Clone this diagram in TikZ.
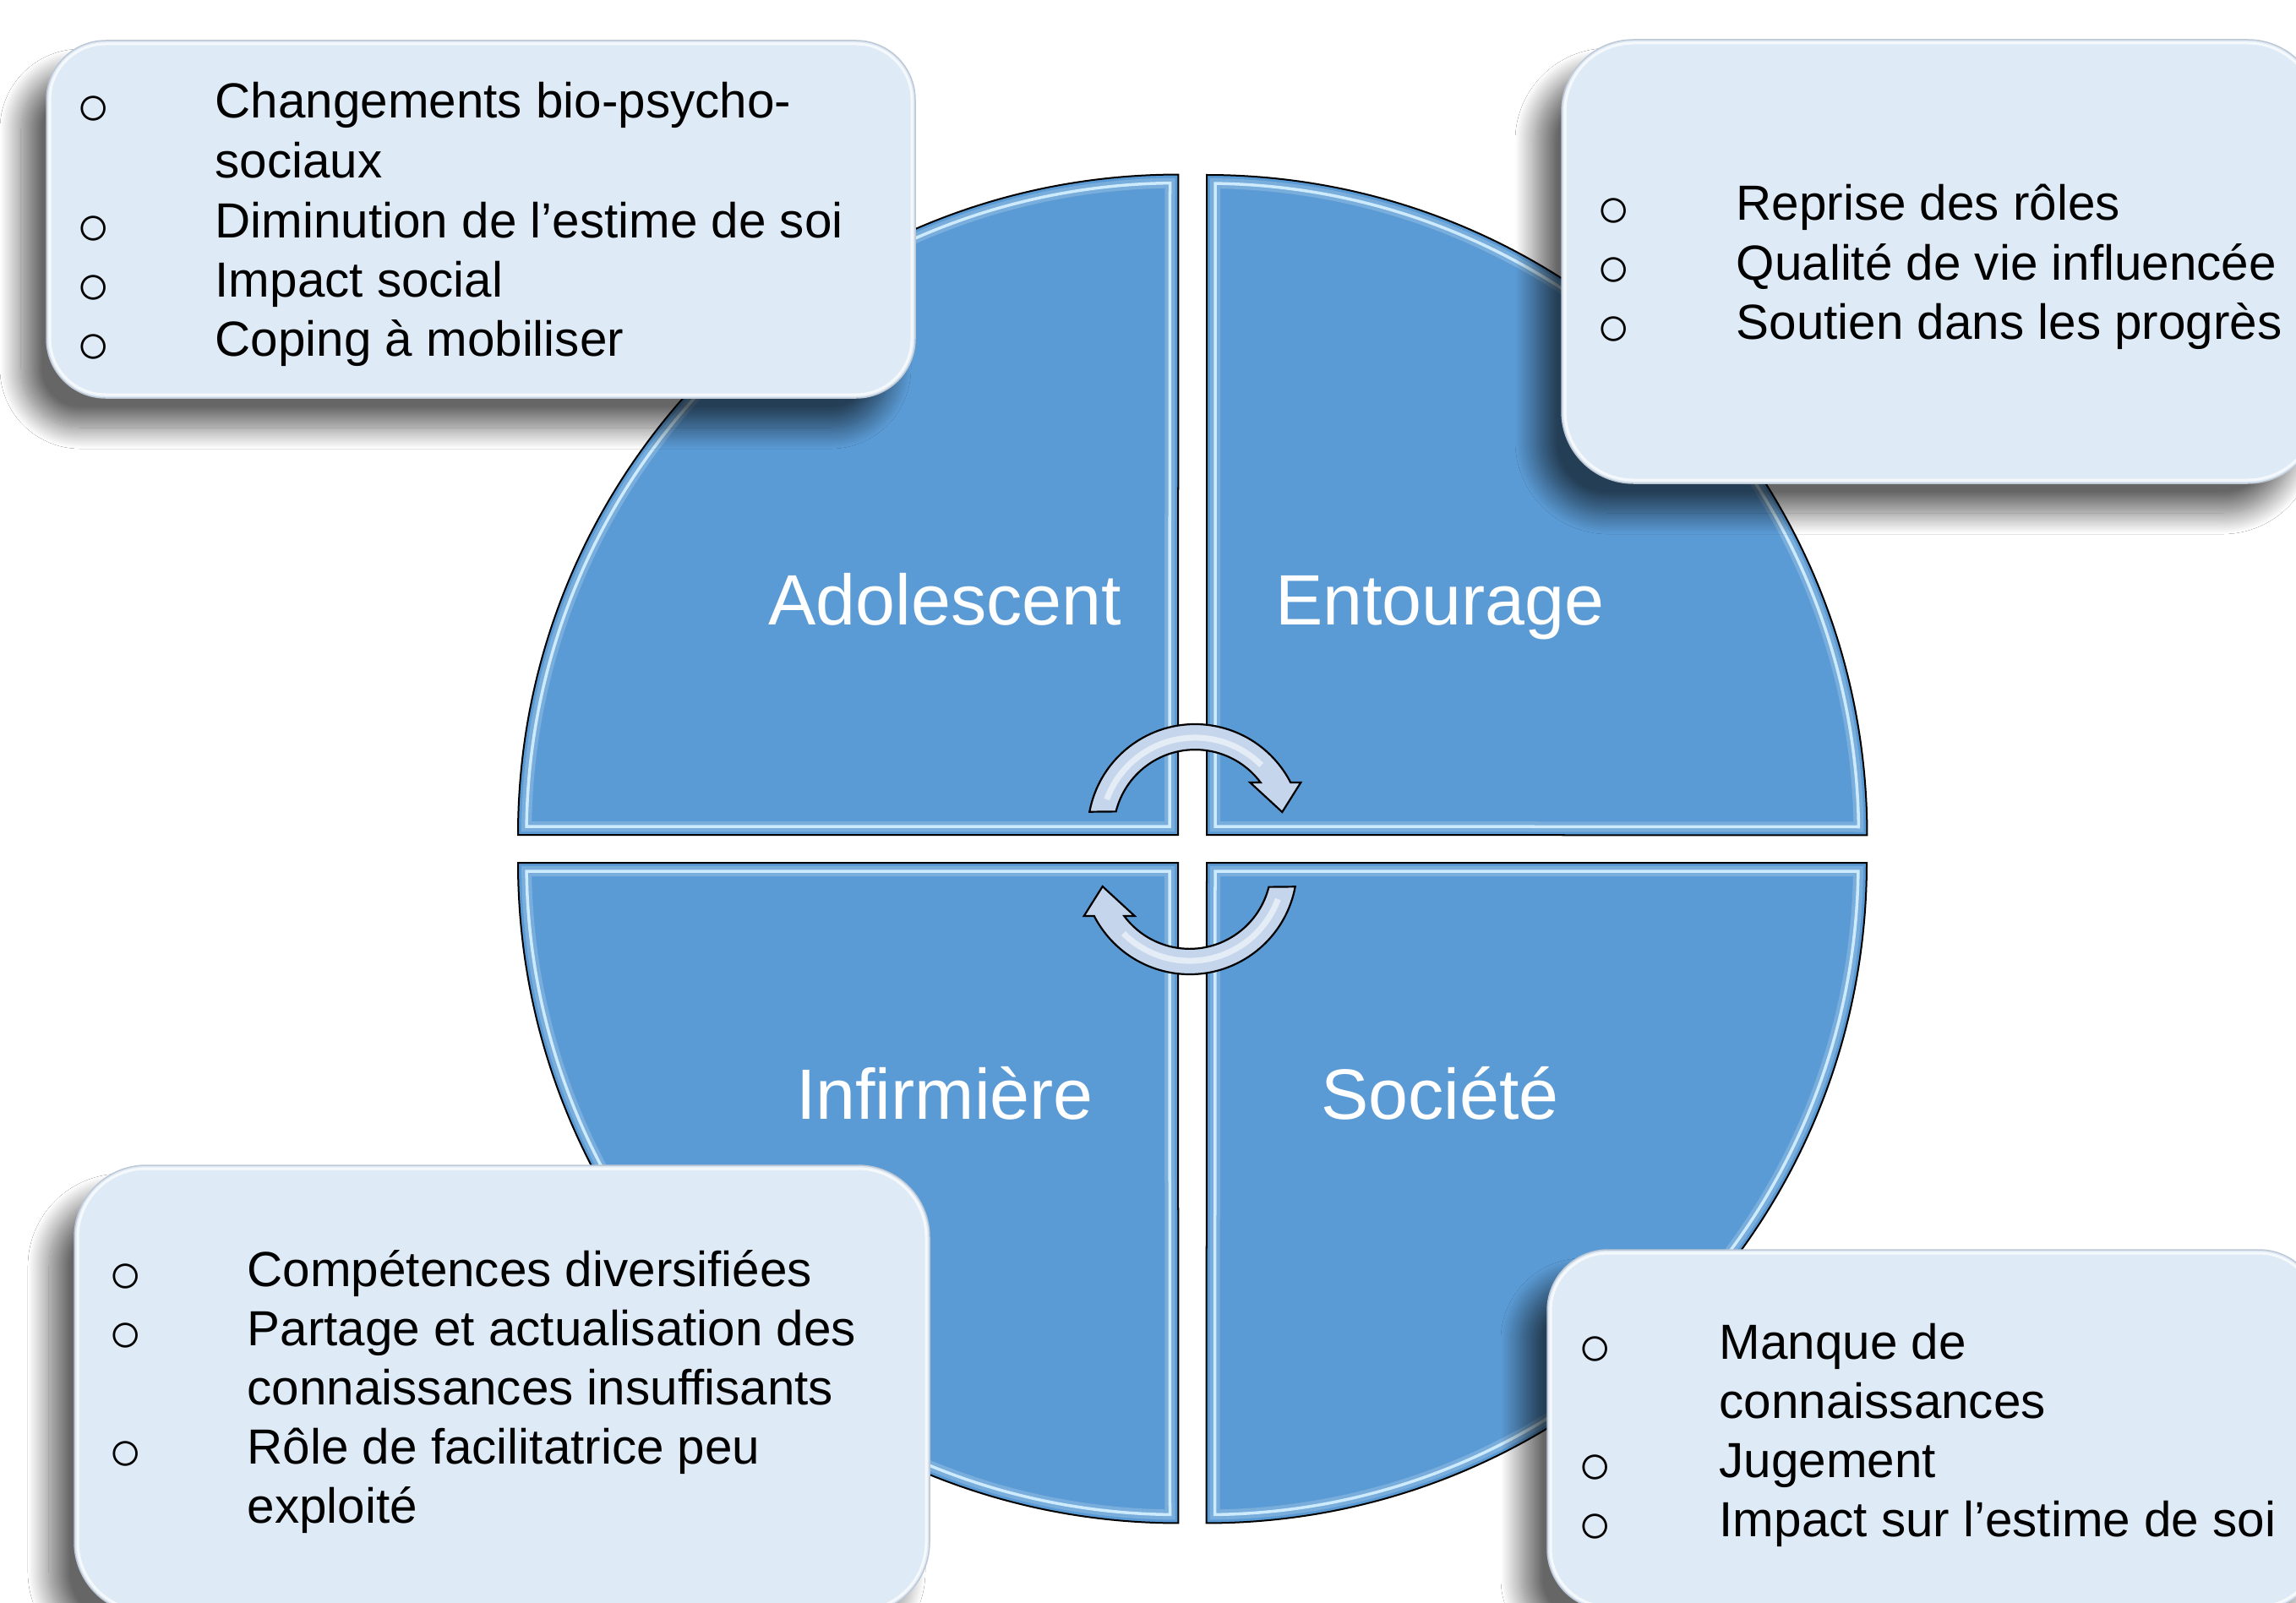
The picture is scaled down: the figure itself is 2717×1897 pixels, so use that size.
\documentclass[tikz,border=0pt]{standalone}
\usepackage{fontspec}
\setmainfont{Liberation Sans}
\usetikzlibrary{shadows.blur}
\definecolor{quadblue}{RGB}{91,155,213}
\definecolor{boxfill}{RGB}{222,234,246}
\definecolor{arrowfill}{RGB}{196,213,236}
\definecolor{bevel}{RGB}{205,235,252}
\definecolor{boxedge}{RGB}{190,200,212}
\tikzset{
  quad/.style={fill=quadblue, draw=black, line width=0.02cm},
  quadhl/.style={draw=bevel, line width=0.035cm},
  quadglow/.style={draw=white, opacity=0.18, line width=0.12cm},
  arrowshape/.style={fill=arrowfill, draw=black, line width=0.022cm, line join=miter},
  arrowgloss/.style={draw=white, opacity=0.55, line width=0.07cm},
  infobox/.style={fill=boxfill, draw=boxedge, line width=0.015cm,
    blur shadow={shadow xshift=-0.3cm, shadow yshift=-0.35cm, shadow blur radius=0.25cm,
      shadow blur steps=30, shadow opacity=60}},
  boxhl/.style={draw=white, line width=0.03cm, opacity=0.75},
  itemtxt/.style={anchor=base west, inner sep=0pt, font=\fontsize{16.6pt}{19.9pt}\selectfont},
  bul/.style={anchor=base, inner sep=0pt, yshift=-0.08cm, font=\fontsize{19pt}{23pt}\selectfont},
  lbl/.style={anchor=base, inner sep=0pt, text=white, font=\fontsize{24pt}{28pt}\selectfont},
}
\begin{document}
\begin{tikzpicture}[x=0.01cm, y=-0.01cm]
\useasboundingbox (0,0) rectangle (2717,1897);
\clip (0,0) rectangle (2717,1897);
\fill[white] (0,0) rectangle (2717,1897);

% quadrants
\path[quad] (1394,988) -- (613,988) arc (180:90:7.81cm) -- cycle;
\path[quad] (1428,988) -- (1428,207) arc (90:0:7.81cm) -- cycle;
\path[quad] (1394,1021) -- (613,1021) arc (180:270:7.81cm) -- cycle;
\path[quad] (1428,1021) -- (2209,1021) arc (0:-90:7.81cm) -- cycle;
% bevel highlights
\foreach \s in {quadglow,quadhl}{
  \path[\s] (1384,978) -- (623.1,978) arc (179.26:90.74:7.71cm) -- cycle;
  \path[\s] (1438,978) -- (1438,217.1) arc (89.26:0.74:7.71cm) -- cycle;
  \path[\s] (1384,1031) -- (623.1,1031) arc (180.74:269.26:7.71cm) -- cycle;
  \path[\s] (1438,1031) -- (2198.9,1031) arc (-0.74:-89.26:7.71cm) -- cycle;
}

% circular arrows
\path[arrowshape] (1289.3,960.7) arc (169.4:27.2:1.27cm) -- (1539.3,926) -- (1517.3,961)
  -- (1479.3,926) -- (1491.7,926) arc (36.7:166:0.965cm) -- cycle;
\path[arrowgloss] (1309.7,946) arc (160:45:1.11cm);
\begin{scope}[rotate around={180:(1411,1005)}]
\path[arrowshape] (1289.3,960.7) arc (169.4:27.2:1.27cm) -- (1539.3,926) -- (1517.3,961)
  -- (1479.3,926) -- (1491.7,926) arc (36.7:166:0.965cm) -- cycle;
\path[arrowgloss] (1309.7,946) arc (160:45:1.11cm);
\end{scope}

% quadrant labels
\node[lbl] (ado) at (1118,739) {Adolescent};
\node[lbl] (ent) at (1704,739) {Entourage};
\node[lbl] (inf) at (1118,1324) {Infirmière};
\node[lbl] (soc) at (1704,1324) {Société};

% box 1
\path[infobox, rounded corners=0.7cm] (55,48) rectangle (1083,471);
\path[boxhl, rounded corners=0.66cm] (59,52) rectangle (1079,467);
\node[bul] (b1a) at (111,140) {○};
\node[bul] (b1b) at (111,282) {○};
\node[bul] (b1c) at (111,352) {○};
\node[bul] (b1d) at (111,422) {○};
\node[itemtxt] (t1a) at (254,140) {Changements bio-psycho-};
\node[itemtxt] (t1b) at (254,211) {sociaux};
\node[itemtxt] (t1c) at (254,282) {Diminution de l’estime de soi};
\node[itemtxt] (t1d) at (254,352) {Impact social};
\node[itemtxt] (t1e) at (254,422) {Coping à mobiliser};

% box 2
\path[infobox, rounded corners=0.85cm] (1848,47) rectangle (2745,572);
\path[boxhl, rounded corners=0.81cm] (1852,51) rectangle (2741,568);
\node[bul] (b2a) at (1910,261) {○};
\node[bul] (b2b) at (1910,331) {○};
\node[bul] (b2c) at (1910,401) {○};
\node[itemtxt] (t2a) at (2054,261) {Reprise des rôles};
\node[itemtxt] (t2b) at (2054,331) {Qualité de vie influencée};
\node[itemtxt] (t2c) at (2054,401) {Soutien dans les progrès};

% box 3
\path[infobox, rounded corners=0.85cm] (88,1379) rectangle (1100,1910);
\path[boxhl, rounded corners=0.81cm] (92,1383) rectangle (1096,1906);
\node[bul] (b3a) at (149,1522) {○};
\node[bul] (b3b) at (149,1592) {○};
\node[bul] (b3c) at (149,1732) {○};
\node[itemtxt] (t3a) at (292,1522) {Compétences diversifiées};
\node[itemtxt] (t3b) at (292,1592) {Partage et actualisation des};
\node[itemtxt] (t3c) at (292,1662) {connaissances insuffisants};
\node[itemtxt] (t3d) at (292,1732) {Rôle de facilitatrice peu};
\node[itemtxt] (t3e) at (292,1802) {exploité};

% box 4
\path[infobox, rounded corners=0.72cm] (1831,1479) rectangle (2745,1905);
\path[boxhl, rounded corners=0.68cm] (1835,1483) rectangle (2741,1901);
\node[bul] (b4a) at (1888,1608) {○};
\node[bul] (b4b) at (1888,1748) {○};
\node[bul] (b4c) at (1888,1818) {○};
\node[itemtxt] (t4a) at (2034,1608) {Manque de};
\node[itemtxt] (t4b) at (2034,1678) {connaissances};
\node[itemtxt] (t4c) at (2034,1748) {Jugement};
\node[itemtxt] (t4d) at (2034,1818) {Impact sur l’estime de soi};
\end{tikzpicture}
\end{document}
